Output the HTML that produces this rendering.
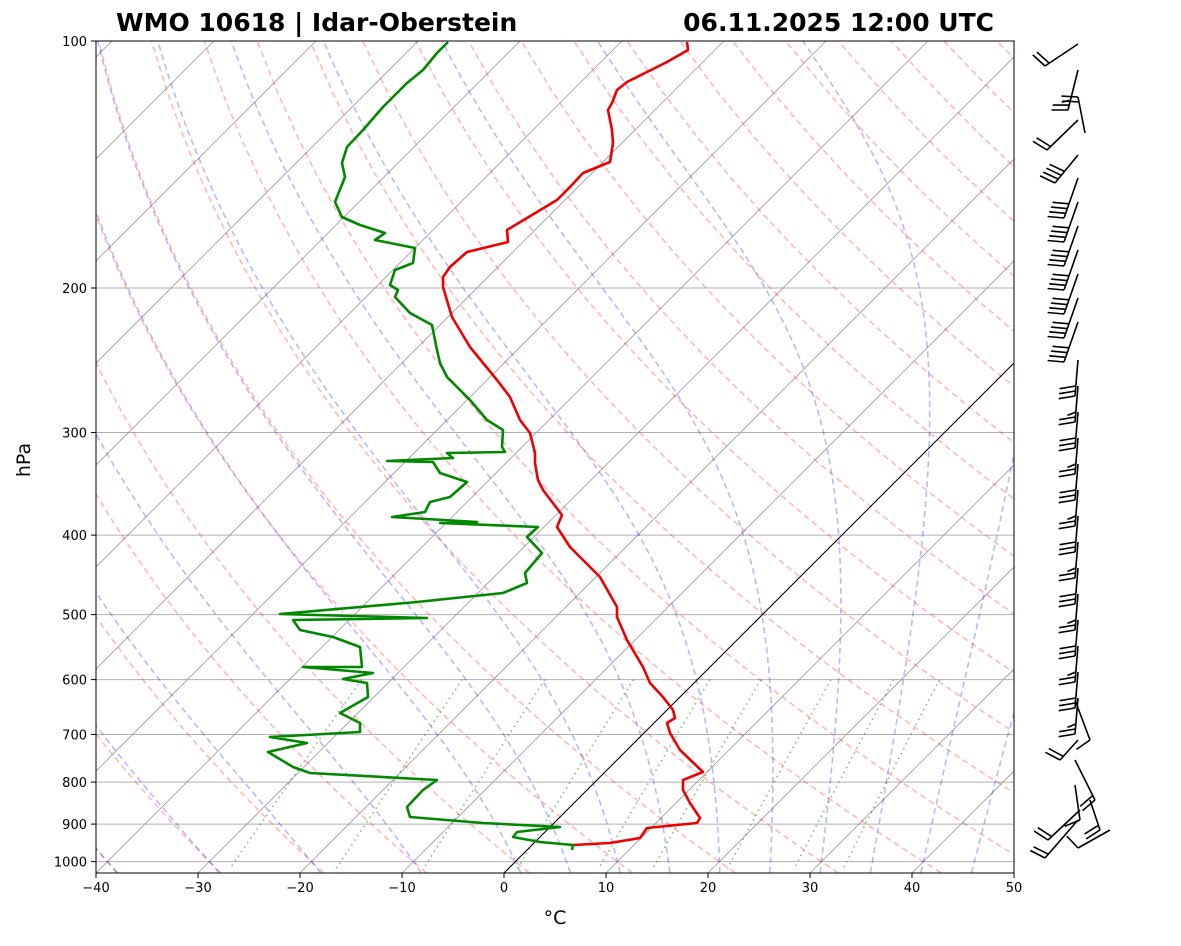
<!DOCTYPE html>
<html><head><meta charset="utf-8"><style>
body{margin:0;background:#fff;}
svg text{font-family:"DejaVu Sans","Liberation Sans",sans-serif;}
</style></head><body>
<svg id="s" width="1181" height="941" xmlns="http://www.w3.org/2000/svg">
<defs><clipPath id="c"><rect x="96" y="41" width="918" height="832"/></clipPath></defs>
<g id="bg" clip-path="url(#c)"></g>
<g clip-path="url(#c)">
<polyline fill="none" stroke="#e00" stroke-width="2.6" stroke-linejoin="round" points="687,42 688,50 667,62 647,72 627,82 617,90 612,103 608,110 612,130 613,143 610,162 583,173 570,187 557,200 537,212 507,230 508,242 467,252 450,267 443,277 443,287 452,317 470,347 497,380 510,397 520,420 530,433 535,453 535,463 538,480 543,490 562,515 557,527 570,547 600,577 617,607 617,617 627,640 643,667 650,683 663,697 673,710 675,718 667,723 670,733 680,750 703,772 683,780 683,790 690,803 700,818 697,823 647,828 640,838 610,843 573,845"/>
<polyline fill="none" stroke="#080" stroke-width="2.6" stroke-linejoin="round" points="448,42 437,53 423,70 407,83 383,107 363,130 347,147 342,163 345,177 335,202 342,217 360,225 385,233 375,240 415,248 413,263 395,270 390,285 398,290 395,297 410,313 432,325 437,350 440,363 447,377 470,400 487,420 503,430 502,447 505,452 447,453 453,458 387,461 433,462 440,473 467,482 450,497 430,502 425,512 392,517 477,522 440,523 538,527 527,537 542,553 525,573 527,583 503,593 417,602 280,614 427,618 293,620 300,630 333,637 360,647 362,667 303,667 373,673 343,679 367,683 368,697 340,713 360,723 360,732 270,737 307,743 268,752 293,767 310,773 437,780 423,790 407,807 410,817 483,823 560,827 517,832 513,837 540,842 573,845 572,850"/>
</g>
<rect x="96" y="41" width="918" height="832" fill="none" stroke="#000" stroke-width="1"/>
<g id="ax"></g>
<g id="wb" stroke="#000" stroke-width="1.6" fill="none"></g>
<text x="116" y="31" font-size="25" font-weight="bold">WMO 10618 | Idar-Oberstein</text>
<text x="994" y="31" font-size="25" font-weight="bold" text-anchor="end">06.11.2025 12:00 UTC</text>
<text x="555" y="924" font-size="19" text-anchor="middle">°C</text>
<text x="0" y="0" font-size="19" text-anchor="middle" transform="translate(30,460) rotate(-90)">hPa</text>
</svg>
<script>
const NS="http://www.w3.org/2000/svg";
const Y=p=>41+820.6*Math.log10(p/100);
const X=(T,p)=>96+(T+40)*10.2+(873-Y(p));
const bg=document.getElementById('bg'),ax=document.getElementById('ax'),wb=document.getElementById('wb');
function line(g,pts,st){const e=document.createElementNS(NS,'polyline');e.setAttribute('points',pts.map(a=>a[0].toFixed(1)+','+a[1].toFixed(1)).join(' '));e.setAttribute('fill','none');for(const k in st)e.setAttribute(k,st[k]);g.appendChild(e);}
const pmax=1032,ps=[];for(let i=0;i<=60;i++)ps.push(pmax+(100-pmax)*i/60);
for(let p=100;p<=1000;p+=100)line(bg,[[96,Y(p)],[1014,Y(p)]],{stroke:'#b0b0b0','stroke-width':1});
for(let T=-140;T<=50;T+=10)line(bg,[[X(T,pmax),Y(pmax)],[X(T,100),Y(100)]],{stroke:'#999','stroke-width':0.8});
for(let t=-40;t<=250;t+=10){const th=t+273.15;line(bg,ps.map(p=>[X(th*Math.pow(p/1000,0.2857)-273.15,p),Y(p)]),{stroke:'rgba(255,0,0,0.28)','stroke-width':1.6,'stroke-dasharray':'6,4'});}
function es(T){return 6.112*Math.exp(17.67*T/(T+243.5));}
function lapse(p,T){const Tk=T+273.15,e=es(T),rs=0.622*e/(p-e),Rd=287.04,Lv=2.501e6,Cp=1005.7;return (Rd*Tk+Lv*rs)/(Cp+Lv*Lv*rs*0.622/(Rd*Tk*Tk))/p;}
const m0=[-40,-30,-20,-10];for(let t=0;t<=50;t+=5)m0.push(t);
for(const t0 of m0){let T=t0,p=1000;const up=[[X(T,p),Y(p)]];while(p>100){const dp=-5;const k1=lapse(p,T),k2=lapse(p+dp/2,T+dp/2*k1),k3=lapse(p+dp/2,T+dp/2*k2),k4=lapse(p+dp,T+dp*k3);T+=dp*(k1+2*k2+2*k3+k4)/6;p+=dp;up.push([X(T,p),Y(p)]);}
T=t0;p=1000;const dn=[];while(p<pmax){const dp=4;T+=dp*lapse(p,T);p+=dp;dn.unshift([X(T,p),Y(p)]);}
line(bg,dn.concat(up),{stroke:'rgba(0,0,255,0.28)','stroke-width':1.6,'stroke-dasharray':'6,4'});}
for(const w of [0.0004,0.001,0.002,0.004,0.007,0.01,0.016,0.024,0.032]){const pts=[];for(let p=600;p<=pmax;p+=20){const e=w*p/(0.622+w),l=Math.log(e/6.112);const Td=243.5*l/(17.67-l);pts.push([X(Td,p),Y(p)]);}line(bg,pts,{stroke:'rgba(0,128,0,0.5)','stroke-width':1.6,'stroke-dasharray':'1.5,4'});}
line(bg,[[X(0,pmax),Y(pmax)],[X(0,100),Y(100)]],{stroke:'#000','stroke-width':1});
function txt(g,x,y,s,a){const e=document.createElementNS(NS,'text');e.setAttribute('x',x);e.setAttribute('y',y);e.setAttribute('font-size',13);e.setAttribute('text-anchor',a);e.textContent=s;g.appendChild(e);}
for(let p=100;p<=1000;p+=100){const y=Y(p);line(ax,[[91,y],[96,y]],{stroke:'#000'});txt(ax,87,y+5,p,'end');}
for(let T=-40;T<=50;T+=10){const x=96+(T+40)*10.2;line(ax,[[x,873],[x,878]],{stroke:'#000'});txt(ax,x,892,(T<0?'\u2212'+(-T):T),'middle');}
function barb(bx,by,tx,ty,n,half){line(wb,[[bx,by],[tx,ty]],{});const dx=tx-bx,dy=ty-by,L=Math.hypot(dx,dy),ux=dx/L,uy=dy/L;let px=-uy,py=ux;if(px>0){px=-px;py=-py;}
for(let i=0;i<n;i++){const sx=tx-ux*i*5,sy=ty-uy*i*5,l=(half&&i==n-1)?8:16;line(wb,[[sx,sy],[sx+px*l+ux*4,sy+py*l+uy*4]],{});}}
barb(1078,44,1045,66,2,0);barb(1078,70,1068,110,3,1);barb(1078,120,1047,150,2,0);barb(1078,155,1055,183,4,0);barb(1085,133,1078,97,2,0);
for(let y=178;y<340;y+=24)barb(1078,y,1064,y+40,4,0);
for(let y=360;y<700;y+=26)barb(1078,y,1075,y+36,3,(y/26)%2<1);
barb(1075,700,1090,740,1,0);barb(1078,740,1060,760,2,0);barb(1075,760,1095,800,2,0);barb(1075,785,1080,820,1,0);
barb(1080,810,1048,840,2,0);barb(1078,820,1045,858,2,0);barb(1110,830,1078,848,1,0);barb(1090,800,1100,830,2,0);
</script>
</body></html>
